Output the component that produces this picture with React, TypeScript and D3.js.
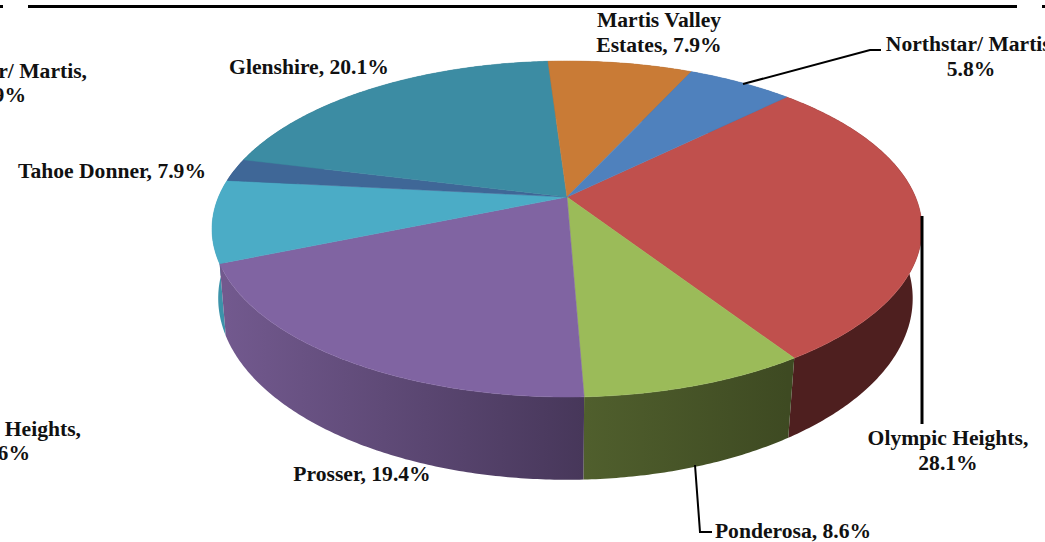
import React from 'react';
import * as d3 from 'd3';

const labels = ['Olympic Heights', 'Ponderosa', 'Prosser', 'Tahoe Donner', 'Northstar/ Martis', 'Glenshire', 'Martis Valley Estates', 'Northstar/ Martis'];
const values = [28.1, 8.6, 19.4, 7.9, 2.2, 20.1, 7.9, 5.8];
const topColors = ['#C0504D', '#9BBB59', '#8064A2', '#4BACC6', '#3F6797', '#3C8CA3', '#C97B36', '#4F81BD'];
const wallLeft = ['#4E1F1F', '#505F2D', '#72598E', '#3C93AA', '#2F4F75', '#2D6B7D', '#8A5425', '#3A5F8C'];
const wallRight = ['#4E1F1F', '#3E4A22', '#47375A', '#3C93AA', '#2F4F75', '#2D6B7D', '#8A5425', '#3A5F8C'];

const textBlocks: { lines: string[]; x: number; y: number; anchor: string }[] = [
  { lines: ['Martis Valley', 'Estates, 7.9%'], x: 659, y: 27, anchor: 'middle' },
  { lines: ['Northstar/ Martis,', '5.8%'], x: 971, y: 51, anchor: 'middle' },
  { lines: ['Northstar/ Martis,'], x: 87, y: 78, anchor: 'end' },
  { lines: ['1.9%'], x: 26, y: 102, anchor: 'end' },
  { lines: ['Glenshire, 20.1%'], x: 309, y: 74, anchor: 'middle' },
  { lines: ['Tahoe Donner, 7.9%'], x: 112, y: 178, anchor: 'middle' },
  { lines: ['Heights,'], x: 81, y: 436, anchor: 'end' },
  { lines: ['0.6%'], x: 30, y: 460, anchor: 'end' },
  { lines: ['Prosser, 19.4%'], x: 362, y: 481, anchor: 'middle' },
  { lines: ['Olympic Heights,', '28.1%'], x: 948, y: 445, anchor: 'middle' },
  { lines: ['Ponderosa, 8.6%'], x: 793, y: 538, anchor: 'middle' },
];

// one-point perspective of a disc, fitted to the picture
const k = -0.1905;
const A = 348.5;
const B = 161.9;
const cx = 567;
const cy = 197;
const depth = 67;
const vanishX = 564;
const shrink = 0.974;
const leftBulge = 3;

const project = (angle: number, bottom = false): [number, number] => {
  const u = Math.sin(angle);
  const v = -Math.cos(angle);
  const w = 1 + k * v;
  const x = cx + (A * u) / w;
  const y = cy + (B * v) / w;
  if (!bottom) return [x, y];
  return [vanishX + shrink * (x - vanishX) + leftBulge * Math.min(0, u), y + depth / w];
};

const line = d3.line();
const sample = (a0: number, a1: number) => {
  const n = Math.max(2, Math.ceil((a1 - a0) / 0.01));
  return d3.range(n + 1).map(i => a0 + ((a1 - a0) * i) / n);
};

const pie = d3.pie<number>().sort(null).value(d => d)
  .startAngle((45.6 * Math.PI) / 180)
  .endAngle((405.6 * Math.PI) / 180);
const slices = pie(values);

const App = () => {
  const faces = slices.map(s => {
    const rim = sample(s.startAngle, s.endAngle).map(a => project(a));
    return line([[cx, cy], ...rim, [cx, cy]]) + 'Z';
  });
  const walls = slices.map(s => {
    const as = sample(s.startAngle, s.endAngle);
    return line([...as.map(a => project(a)), ...as.slice().reverse().map(a => project(a, true))]) + 'Z';
  });
  // walls towards the viewer are painted last
  const wallOrder = d3.range(slices.length).sort((a, b) =>
    project((slices[a].startAngle + slices[a].endAngle) / 2)[1] - project((slices[b].startAngle + slices[b].endAngle) / 2)[1]);

  return (
    <svg width={1045} height={542} style={{ position: 'absolute', left: 0, top: 0, background: '#fff' }}
      fontFamily="'Liberation Serif', serif" fontWeight="bold" fontSize={21.6} fill="#111">
      <defs>
        {slices.map((s, i) => (
          <linearGradient key={i} id={`wall${i}`} gradientUnits="userSpaceOnUse"
            x1={Math.min(...sample(s.startAngle, s.endAngle).map(a => project(a, true)[0]))}
            x2={Math.max(...sample(s.startAngle, s.endAngle).map(a => project(a, true)[0]))} y1={0} y2={0}>
            <stop offset="0" stopColor={wallLeft[i]} />
            <stop offset="1" stopColor={wallRight[i]} />
          </linearGradient>
        ))}
      </defs>

      <rect x={28} y={5} width={989} height={3} fill="#000" />
      <rect x={0} y={5} width={3} height={3} fill="#000" />
      <rect x={1042} y={5} width={3} height={3} fill="#000" />

      {wallOrder.map(i => <path key={i} d={walls[i]} fill={`url(#wall${i})`} />)}
      {faces.map((d, i) => <path key={labels[i] + i} d={d} fill={topColors[i]} stroke={topColors[i]} strokeWidth={0.5} />)}

      <g fill="none" stroke="#000">
        <path d="M743,84L870,50L881,50" strokeWidth={2} />
        <path d="M922,216V424" strokeWidth={3} />
        <path d="M695,465L700,532L712,532" strokeWidth={2} />
      </g>

      {textBlocks.map((b, i) => (
        <text key={i} x={b.x} y={b.y} textAnchor={b.anchor}>
          {b.lines.map((l, j) => <tspan key={j} x={b.x} dy={j ? 24.5 : 0}>{l}</tspan>)}
        </text>
      ))}
    </svg>
  );
};

export default App;
